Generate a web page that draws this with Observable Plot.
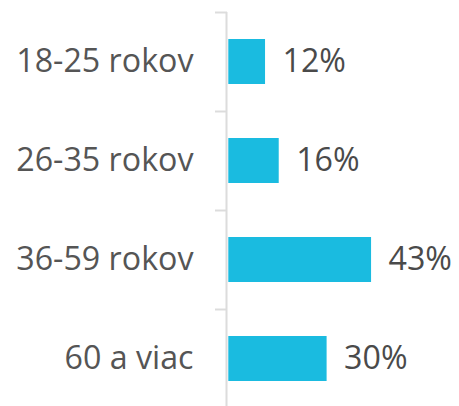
<!DOCTYPE html>
<html>
<head>
<meta charset="utf-8">
<script src="https://cdn.jsdelivr.net/npm/d3@7"></script>
<script src="https://cdn.jsdelivr.net/npm/@observablehq/plot@0.6"></script>
<style>
  html, body { margin: 0; padding: 0; background: #fff; }
  svg { display: block; }
</style>
</head>
<body>
<div id="chart"></div>
<script>
const categories = ["18-25 rokov", "26-35 rokov", "36-59 rokov", "60 a viac"];
const values = [12, 16, 43, 30];
const valueLabels = ["12%", "16%", "43%", "30%"];

const data = categories.map((c, i) => ({category: c, value: values[i], label: valueLabels[i]}));

const font = "'Open Sans', 'Noto Sans', sans-serif";
const chart = Plot.plot({
  width: 459,
  height: 406,
  marginLeft: 224,
  marginRight: 64,
  marginTop: 12,
  marginBottom: 0,
  style: {fontFamily: font, background: "#fff"},
  x: {domain: [0, 50], axis: null},
  y: {domain: categories, range: [12, 408], paddingInner: 0.545, paddingOuter: 0.2725, label: null},
  marks: [
    Plot.barX(data, {x: "value", y: "category", fill: "#1abbe0", insetLeft: 4.3}),
    Plot.ruleX([0], {stroke: "#dcdcdc", strokeWidth: 2, dx: 2}),
    Plot.axisY({tickSize: 12, tickFormat: () => "", dy: -49.5, dx: 3, stroke: "#dcdcdc", strokeWidth: 2}),
    Plot.axisY({tickSize: 0, tickPadding: 31, fontSize: 32.2, fill: "#555", fontFamily: font}),
    Plot.text(data, {x: "value", y: "category", text: "label", textAnchor: "start", dx: 17, fontSize: 32.2, fill: "#4a4a4a", fontFamily: font})
  ]
});
document.getElementById("chart").appendChild(chart);
</script>
</body>
</html>
